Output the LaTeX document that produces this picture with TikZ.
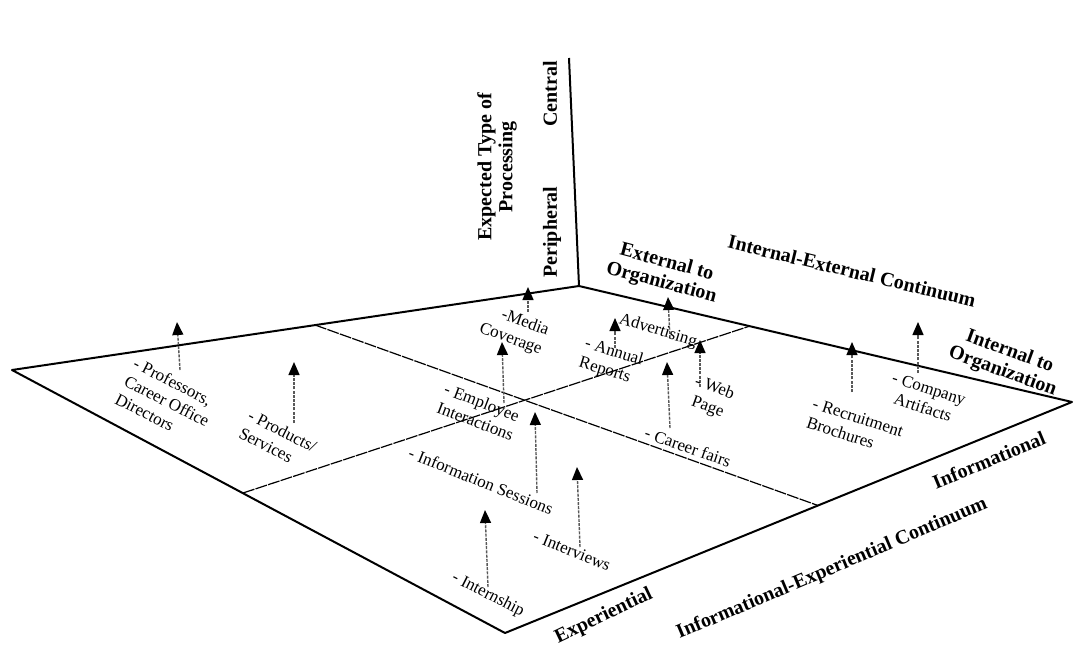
\documentclass[tikz,border=0pt]{standalone}
\usepackage{fontspec}
\setmainfont{Liberation Serif}
\usetikzlibrary{arrows.meta}
\begin{document}
\begin{tikzpicture}[x=0.5pt,y=-0.5pt,
  edge/.style={line width=1pt,black,line join=round},
  divider/.style={line width=0.6pt,black,dash pattern=on 6pt off 0.6pt},
  upar/.style={line width=0.7pt,black!65,dash pattern=on 1.5pt off 0.6pt,-{Triangle[length=6.5pt,width=5.5pt,color=black]}},
  lbl/.style={font=\fontsize{8.5}{10}\selectfont,inner sep=0pt,align=left},
  axl/.style={font=\bfseries\fontsize{10}{10.5}\selectfont,inner sep=0pt,align=center}]
\useasboundingbox (0,0) rectangle (1082,647);
% plane corners
\coordinate (L) at (12,370);
\coordinate (B) at (579,286);
\coordinate (R) at (1072,402);
\coordinate (F) at (505,633);
\coordinate (Top) at (569,58);
% dividers
\coordinate (d1a) at (315,325);
\coordinate (d1b) at (818,505.5);
\coordinate (d2a) at (243,493);
\coordinate (d2b) at (750,326);
\draw[divider] (d1a) -- (d1b);
\draw[divider] (d2a) -- (d2b);
\draw[edge] (L) -- (B) -- (R) -- (F) -- cycle;
\draw[edge] (B) -- (Top);
% arrows
\coordinate (a1s) at (180,370);  \coordinate (a1e) at (177,322);
\coordinate (a2s) at (294,423);  \coordinate (a2e) at (294,362);
\coordinate (a3s) at (528,312);  \coordinate (a3e) at (528,287);
\coordinate (a4s) at (504,403);  \coordinate (a4e) at (502,342);
\coordinate (a5s) at (537,493);  \coordinate (a5e) at (535,412);
\coordinate (a6s) at (580,547);  \coordinate (a6e) at (577,467);
\coordinate (a7s) at (488,587);  \coordinate (a7e) at (485,510);
\coordinate (a8s) at (615,348);  \coordinate (a8e) at (615,318);
\coordinate (a9s) at (670,338);  \coordinate (a9e) at (668,297);
\coordinate (a10s) at (700,387); \coordinate (a10e) at (700,340);
\coordinate (a11s) at (670,428); \coordinate (a11e) at (667,362);
\coordinate (a12s) at (852,392); \coordinate (a12e) at (852,342);
\coordinate (a13s) at (918,373); \coordinate (a13e) at (918,322);
\foreach \i in {1,...,13} {\draw[upar] (a\i s) -- (a\i e);}
% item labels
\node[lbl,rotate=-27] (prof) at (167,401) {- Professors,\\Career Office\\Directors};
\node[lbl,rotate=-27] (prod) at (278,440) {- Products/\\Services};
\node[lbl,rotate=-20,align=right] (media) at (514,330) {-Media\\Coverage};
\node[lbl,rotate=-21] (empl) at (479,412) {- Employee\\Interactions};
\node[lbl,rotate=-22] (info) at (481,481) {- Information Sessions};
\node[lbl,rotate=-22] (intv) at (572,551) {- Interviews};
\node[lbl,rotate=-27] (ints) at (488,595) {- Internship};
\node[lbl,rotate=-17] (annu) at (611,362) {- Annual\\Reports};
\node[lbl,rotate=-17] (adv) at (658,331) {Advertising};
\node[lbl,rotate=-20,align=center] (web) at (711,398) {- Web\\Page};
\node[lbl,rotate=-19] (care) at (688,447) {- Career fairs};
\node[lbl,rotate=-18] (recr) at (855,427) {- Recruitment\\Brochures};
\node[lbl,rotate=-18,align=center] (comp) at (926,398) {- Company\\Artifacts};
% axis labels
\node[axl,rotate=90] (ept) at (497,167) {Expected Type of\\Processing};
\node[axl,rotate=90] (cen) at (550,94) {Central};
\node[axl,rotate=90] (per) at (552,232) {Peripheral};
\node[axl,rotate=-15] (ext) at (664,273) {External to\\Organization};
\node[axl,rotate=-13.5] (iec) at (852,271) {Internal-External Continuum};
\node[axl,rotate=-20] (into) at (1006,362) {Internal to\\Organization};
\node[axl,rotate=22.5] (infl) at (989,460) {Informational};
\node[axl,rotate=23] (iexc) at (832,569) {Informational-Experiential Continuum};
\node[axl,rotate=25.5] (expl) at (604,616) {Experiential};
\end{tikzpicture}
\end{document}
